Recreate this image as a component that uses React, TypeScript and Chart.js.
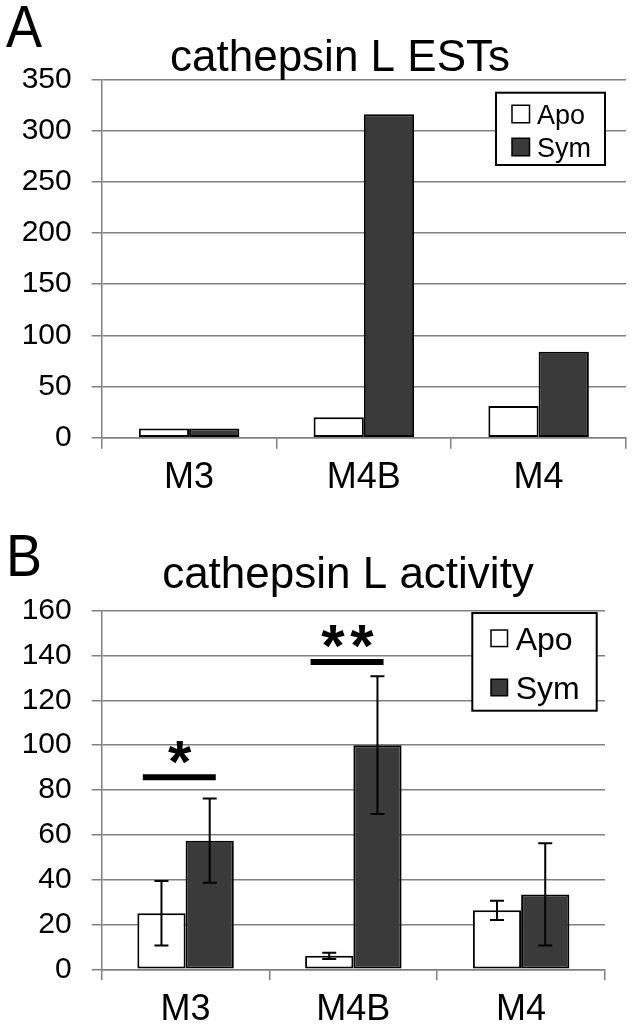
import React, { useEffect, useRef } from "react";
import { Chart, registerables } from "chart.js";

Chart.register(...registerables);

// ---------- data ----------
const categories = ["M3", "M4B", "M4"];
const seriesNames = ["Apo", "Sym"];

// Panel A: cathepsin L ESTs
const estApo = [9, 20, 31];
const estSym = [9, 316, 84];
const estMax = 350;
const estStep = 50;

// Panel B: cathepsin L activity
const actApo = [25, 6, 26.3];
const actSym = [57.4, 100, 33.4];
const actApoErr = [14.4, 1.4, 4.3];
const actSymErr = [18.8, 30.7, 22.8];
const actMax = 160;
const actStep = 20;

// significance markers (panel B)
const sigCategoryIndex = [0, 1];
const sigLineValue = [85.7, 137.1];
const sigStarValue = [96.6, 148.3];
const sigLabels = ["*", "**"];

const FONT = "'Liberation Sans', Arial, sans-serif";
const GRID = "#808080";
const SYM_FILL = "#3a3a3a";

type PanelOpts = {
  letter: string;
  letterBaseline: number;
  title: string;
  titleX: number;
  titleBaseline: number;
  legendBox: [number, number, number, number];
  legendSwatch: [number, number];
  legendRows: [number, number];
  legendTextX: number;
  legendFont: number;
  errors?: number[][];
  sig?: boolean;
};

function makePlugin(o: PanelOpts) {
  return {
    id: "panelDecor" + o.letter,
    afterDatasetsDraw(chart: any) {
      const ctx = chart.ctx as CanvasRenderingContext2D;
      const yScale = chart.scales.y;
      const xScale = chart.scales.x;
      ctx.save();
      // error bars
      if (o.errors) {
        o.errors.forEach((errs, d) => {
          const meta = chart.getDatasetMeta(d);
          const vals = chart.data.datasets[d].data as number[];
          meta.data.forEach((bar: any, i: number) => {
            const v = vals[i];
            const e = errs[i];
            const x = bar.x;
            const yt = yScale.getPixelForValue(v + e);
            const yb = yScale.getPixelForValue(v - e);
            ctx.strokeStyle = "#000";
            ctx.lineWidth = 2;
            ctx.beginPath();
            ctx.moveTo(x, yt);
            ctx.lineTo(x, yb);
            ctx.moveTo(x - 7, yt);
            ctx.lineTo(x + 7, yt);
            ctx.moveTo(x - 7, yb);
            ctx.lineTo(x + 7, yb);
            ctx.stroke();
          });
        });
      }
      // significance
      if (o.sig) {
        const catW = xScale.width / categories.length;
        sigCategoryIndex.forEach((ci, k) => {
          const cx = xScale.getPixelForValue(ci);
          const ly = yScale.getPixelForValue(sigLineValue[k]);
          ctx.strokeStyle = "#000";
          ctx.lineWidth = 6;
          ctx.beginPath();
          ctx.moveTo(cx - 0.255 * catW, ly);
          ctx.lineTo(cx + 0.18 * catW, ly);
          ctx.stroke();
          const sy = yScale.getPixelForValue(sigStarValue[k]);
          const label = sigLabels[k];
          const n = label.length;
          const scx = cx - 0.035 * catW;
          ctx.fillStyle = "#000";
          ctx.font = `bold 60px ${FONT}`;
          ctx.textAlign = "center";
          ctx.textBaseline = "alphabetic";
          const m = ctx.measureText("*");
          const by = sy + (m.actualBoundingBoxAscent - m.actualBoundingBoxDescent) / 2;
          for (let j = 0; j < n; j++) {
            const off = (j - (n - 1) / 2) * 29;
            ctx.fillText("*", scx + off, by);
          }
        });
      }
      ctx.restore();
    },
    afterDraw(chart: any) {
      const ctx = chart.ctx as CanvasRenderingContext2D;
      ctx.save();
      ctx.fillStyle = "#000";
      ctx.textBaseline = "alphabetic";
      // panel letter (slightly condensed like the original)
      ctx.save();
      ctx.translate(6, o.letterBaseline);
      ctx.scale(0.9, 1);
      ctx.font = `60px ${FONT}`;
      ctx.textAlign = "left";
      ctx.fillText(o.letter, 0, 0);
      ctx.restore();
      // title
      ctx.font = `44px ${FONT}`;
      ctx.textAlign = "center";
      ctx.fillText(o.title, o.titleX, o.titleBaseline);
      // legend
      const [bl, bt, br, bb] = o.legendBox;
      ctx.fillStyle = "#fff";
      ctx.fillRect(bl, bt, br - bl, bb - bt);
      ctx.strokeStyle = "#000";
      ctx.lineWidth = 2;
      ctx.strokeRect(bl, bt, br - bl, bb - bt);
      const [sx, ss] = o.legendSwatch;
      const fills = ["#fff", SYM_FILL];
      seriesNames.forEach((name, i) => {
        const cy = o.legendRows[i];
        ctx.fillStyle = fills[i];
        ctx.fillRect(sx, cy - ss / 2, ss, ss);
        ctx.lineWidth = 1.5;
        ctx.strokeStyle = "#000";
        ctx.strokeRect(sx, cy - ss / 2, ss, ss);
        ctx.fillStyle = "#000";
        ctx.font = `${o.legendFont}px ${FONT}`;
        ctx.textAlign = "left";
        ctx.textBaseline = "alphabetic";
        ctx.fillText(name, o.legendTextX, cy + o.legendFont * 0.358);
      });
      ctx.restore();
    },
  };
}

function buildConfig(
  apo: number[],
  sym: number[],
  max: number,
  step: number,
  area: { top: number; bottom: number; left: number; right: number },
  height: number,
  width: number,
  plugin: any
): any {
  return {
    type: "bar",
    data: {
      labels: categories,
      datasets: [
        {
          label: seriesNames[0],
          data: apo,
          backgroundColor: "#ffffff",
          borderColor: "#000000",
          borderWidth: 2,
          borderSkipped: false,
          categoryPercentage: 0.575,
          barPercentage: 1,
        },
        {
          label: seriesNames[1],
          data: sym,
          backgroundColor: SYM_FILL,
          borderColor: "#000000",
          borderWidth: 2,
          borderSkipped: false,
          categoryPercentage: 0.575,
          barPercentage: 1,
        },
      ],
    },
    options: {
      responsive: false,
      animation: false,
      devicePixelRatio: 1,
      layout: {
        padding: { top: area.top, left: 0, right: width - area.right, bottom: 0 },
      },
      plugins: {
        legend: { display: false },
        tooltip: { enabled: false },
        title: { display: false },
      },
      scales: {
        x: {
          ticks: { font: { size: 36, family: FONT }, color: "#000", padding: 8 },
          grid: {
            display: true,
            drawOnChartArea: false,
            drawTicks: true,
            tickLength: 11,
            offset: true,
            color: GRID,
            lineWidth: 1.5,
          },
          border: { display: true, color: GRID, width: 1.5 },
          afterFit: (s: any) => {
            s.height = height - area.bottom;
          },
        },
        y: {
          min: 0,
          max: max,
          ticks: {
            stepSize: step,
            font: { size: 30, family: FONT },
            color: "#000",
            padding: 20,
          },
          grid: { color: GRID, lineWidth: 1.5, tickLength: 10, drawTicks: true },
          border: { display: true, color: GRID, width: 1.5 },
          afterFit: (s: any) => {
            s.width = area.left;
          },
        },
      },
    },
    plugins: [plugin],
  };
}

const W = 634;
const H = 517;

export default function App() {
  const topRef = useRef<HTMLCanvasElement>(null);
  const botRef = useRef<HTMLCanvasElement>(null);

  useEffect(() => {
    const pA = makePlugin({
      letter: "A",
      letterBaseline: 47,
      title: "cathepsin L ESTs",
      titleX: 340,
      titleBaseline: 70.5,
      legendBox: [496, 92.7, 605, 165],
      legendSwatch: [512, 17.5],
      legendRows: [114, 147],
      legendTextX: 537,
      legendFont: 27,
    });
    const pB = makePlugin({
      letter: "B",
      letterBaseline: 576 - H,
      title: "cathepsin L activity",
      titleX: 348,
      titleBaseline: 588 - H,
      legendBox: [472.3, 613 - H, 596.7, 710.7 - H],
      legendSwatch: [491, 16.5],
      legendRows: [638.3 - H, 687.5 - H],
      legendTextX: 515.7,
      legendFont: 32,
      errors: [actApoErr, actSymErr],
      sig: true,
    });
    const c1 = new Chart(
      topRef.current!,
      buildConfig(estApo, estSym, estMax, estStep, { top: 79.5, bottom: 437.7, left: 101.7, right: 626 }, H, W, pA)
    );
    const c2 = new Chart(
      botRef.current!,
      buildConfig(actApo, actSym, actMax, actStep, { top: 610.7 - H, bottom: 969.3 - H, left: 101.7, right: 605 }, H, W, pB)
    );
    return () => {
      c1.destroy();
      c2.destroy();
    };
  }, []);

  return (
    <div style={{ position: "absolute", left: 0, top: 0, width: W, height: 2 * H, background: "#fff" }}>
      <canvas ref={topRef} width={W} height={H} style={{ display: "block", width: W, height: H }} />
      <canvas ref={botRef} width={W} height={H} style={{ display: "block", width: W, height: H }} />
    </div>
  );
}
